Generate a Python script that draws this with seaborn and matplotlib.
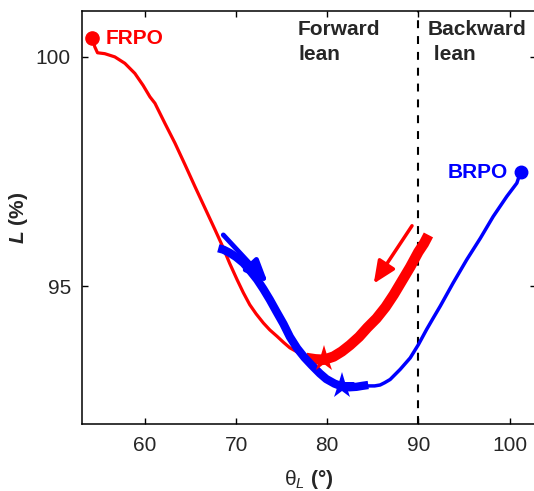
import matplotlib
matplotlib.use("Agg")
import matplotlib.pyplot as plt
import seaborn as sns
import pandas as pd

# ---------------- data ----------------
frpo_thin_x = [54.2, 54.5, 54.8, 55.6, 56.7, 57.8, 58.9, 59.8, 60.55, 61.1, 62.2,
               63.3, 64.4, 65.5, 66.6, 67.7, 68.5, 69.3, 70.1, 70.8, 71.5, 72.2,
               73.0, 73.7, 74.5, 75.2, 75.9, 76.7, 77.4, 78.1, 78.8, 79.65]
frpo_thin_y = [100.42, 100.22, 100.09, 100.07, 100.0, 99.86, 99.64, 99.38, 99.13,
               98.99, 98.55, 98.12, 97.65, 97.17, 96.7, 96.23, 95.88, 95.5, 95.15,
               94.86, 94.6, 94.4, 94.2, 94.05, 93.91, 93.78, 93.66, 93.57, 93.51,
               93.47, 93.44, 93.41]

frpo_thick_x = [77.7, 78.7, 79.65, 80.7, 81.6, 82.5, 83.5, 84.4, 85.4, 86.4, 87.3,
                88.2, 89.1, 90.0, 90.6, 91.1]
frpo_thick_y = [93.44, 93.41, 93.40, 93.47, 93.58, 93.72, 93.9, 94.1, 94.3, 94.55,
                94.82, 95.12, 95.42, 95.75, 95.93, 96.12]

brpo_thin_x = [101.2, 100.8, 99.7, 98.2, 96.8, 95.3, 93.8, 92.4, 91.6, 90.9, 90.0,
               89.1, 88.0, 87.4, 86.9, 86.3, 85.8, 85.2, 84.5]
brpo_thin_y = [97.49, 97.25, 96.96, 96.52, 96.05, 95.58, 95.07, 94.57, 94.3, 94.06,
               93.73, 93.44, 93.19, 93.07, 92.97, 92.9, 92.85, 92.83, 92.83]

brpo_thick_x = [84.5, 83.8, 83.2, 82.4, 81.6, 80.8, 79.9, 79.2, 78.3, 77.5, 76.7,
                75.9, 75.2, 74.4, 73.7, 73.0, 72.3, 71.5, 70.8, 70.0, 69.3, 68.6,
                68.05]
brpo_thick_y = [92.85, 92.83, 92.81, 92.80, 92.82, 92.88, 92.98, 93.1, 93.28, 93.45,
                93.65, 93.9, 94.18, 94.46, 94.71, 94.94, 95.15, 95.35, 95.51, 95.64,
                95.73, 95.8, 95.83]

frpo_star = (79.65, 93.41)
brpo_star = (81.6, 92.82)

red_arrow_from = (89.3, 96.32)
red_arrow_to = (85.1, 95.06)
blue_arrow_from = (68.6, 96.12)
blue_arrow_to = (73.5, 95.07)

x_ticks = [60, 70, 80, 90, 100]
y_ticks = [95, 100]
boundary_x = 90

RED = "#FF0000"
BLUE = "#0000FF"
TXT = "#262626"

# ---------------- style ----------------
sns.set_style("ticks")
plt.rcParams["font.family"] = ["Liberation Sans", "DejaVu Sans"]
plt.rcParams["mathtext.fontset"] = "custom"
plt.rcParams["mathtext.rm"] = "Liberation Sans"
plt.rcParams["mathtext.it"] = "Liberation Sans:italic"
plt.rcParams["mathtext.bf"] = "Liberation Sans:bold"
plt.rcParams["mathtext.bfit"] = "Liberation Sans:italic:bold"

fig = plt.figure(figsize=(5.34, 4.91), dpi=100)
ax = fig.add_axes([82 / 534, 1 - 424 / 491, (536 - 82) / 534, (424 - 11) / 491])

# ---------------- curves ----------------
df_rt = pd.DataFrame({"x": frpo_thin_x, "y": frpo_thin_y})
df_rk = pd.DataFrame({"x": frpo_thick_x, "y": frpo_thick_y})
df_bt = pd.DataFrame({"x": brpo_thin_x, "y": brpo_thin_y})
df_bk = pd.DataFrame({"x": brpo_thick_x, "y": brpo_thick_y})

common = dict(sort=False, estimator=None, ax=ax, solid_joinstyle="round")
sns.lineplot(data=df_rt, x="x", y="y", color=RED, lw=2.3, zorder=3, **common)
sns.lineplot(data=df_bt, x="x", y="y", color=BLUE, lw=2.5, zorder=3, **common)
sns.lineplot(data=df_rk, x="x", y="y", color=RED, lw=7.5, zorder=4,
             solid_capstyle="butt", **common)
sns.lineplot(data=df_bk, x="x", y="y", color=BLUE, lw=6.0, zorder=5,
             solid_capstyle="butt", **common)

# start markers
ax.plot(frpo_thin_x[0], frpo_thin_y[0], "o", color=RED, ms=9.5, zorder=6)
ax.plot(brpo_thin_x[0], brpo_thin_y[0], "o", color=BLUE, ms=9, zorder=6)

# stars
ax.plot(*frpo_star, marker="*", color=RED, ms=20, mew=0, zorder=6)
ax.plot(*brpo_star, marker="*", color=BLUE, ms=20, mew=0, zorder=7)

# arrows
ax.annotate("", xy=red_arrow_to, xytext=red_arrow_from,
            arrowprops=dict(arrowstyle="-|>,head_length=1.35,head_width=0.6",
                            lw=2.5, color=RED, shrinkA=0, shrinkB=0,
                            mutation_scale=10), zorder=6)
ax.annotate("", xy=blue_arrow_to, xytext=blue_arrow_from,
            arrowprops=dict(arrowstyle="-|>,head_length=1.35,head_width=0.55",
                            lw=3.5, color=BLUE, shrinkA=0, shrinkB=0,
                            mutation_scale=10), zorder=6)

# boundary
ax.axvline(boundary_x, color="black", lw=1.5, ls=(0, (3.8, 3.8)), zorder=2)

# labels in plot
ax.text(55.7, 100.41, "FRPO", color=RED, fontsize=15, fontweight="bold",
        ha="left", va="center")
ax.text(99.85, 97.47, "BRPO", color=BLUE, fontsize=15, fontweight="bold",
        ha="right", va="center")
ax.text(76.8, 100.80, "Forward\nlean", color=TXT, fontsize=15, fontweight="bold",
        ha="left", va="top", linespacing=1.42)
ax.text(91.0, 100.80, "Backward\n lean", color=TXT, fontsize=15, fontweight="bold",
        ha="left", va="top", linespacing=1.42)

# axes
ax.set_xlim(53.1, 102.9)
ax.set_ylim(92.0, 101.0)
ax.set_xticks(x_ticks)
ax.set_yticks(y_ticks)
ax.tick_params(direction="in", length=4.5, width=1.0, top=True, right=True,
               labelsize=15, labelcolor=TXT, color="black")
ax.tick_params(axis="x", pad=8.5)
ax.tick_params(axis="y", pad=8)
for s in ax.spines.values():
    s.set_visible(True)
    s.set_linewidth(1.1)
    s.set_color("black")

ax.set_xlabel(r"$\mathrm{\theta}_{\mathit{L}}$ (°)", fontsize=15,
              fontweight="bold", color=TXT)
ax.set_ylabel(r"$\mathbfit{L}$ (%)", fontsize=15, fontweight="bold", color=TXT)
ax.yaxis.set_label_coords((30 - 82) / 454, 0.5)
ax.xaxis.set_label_coords(0.5, -(468 - 424) / 413)

fig.savefig("out.png", dpi=100)
